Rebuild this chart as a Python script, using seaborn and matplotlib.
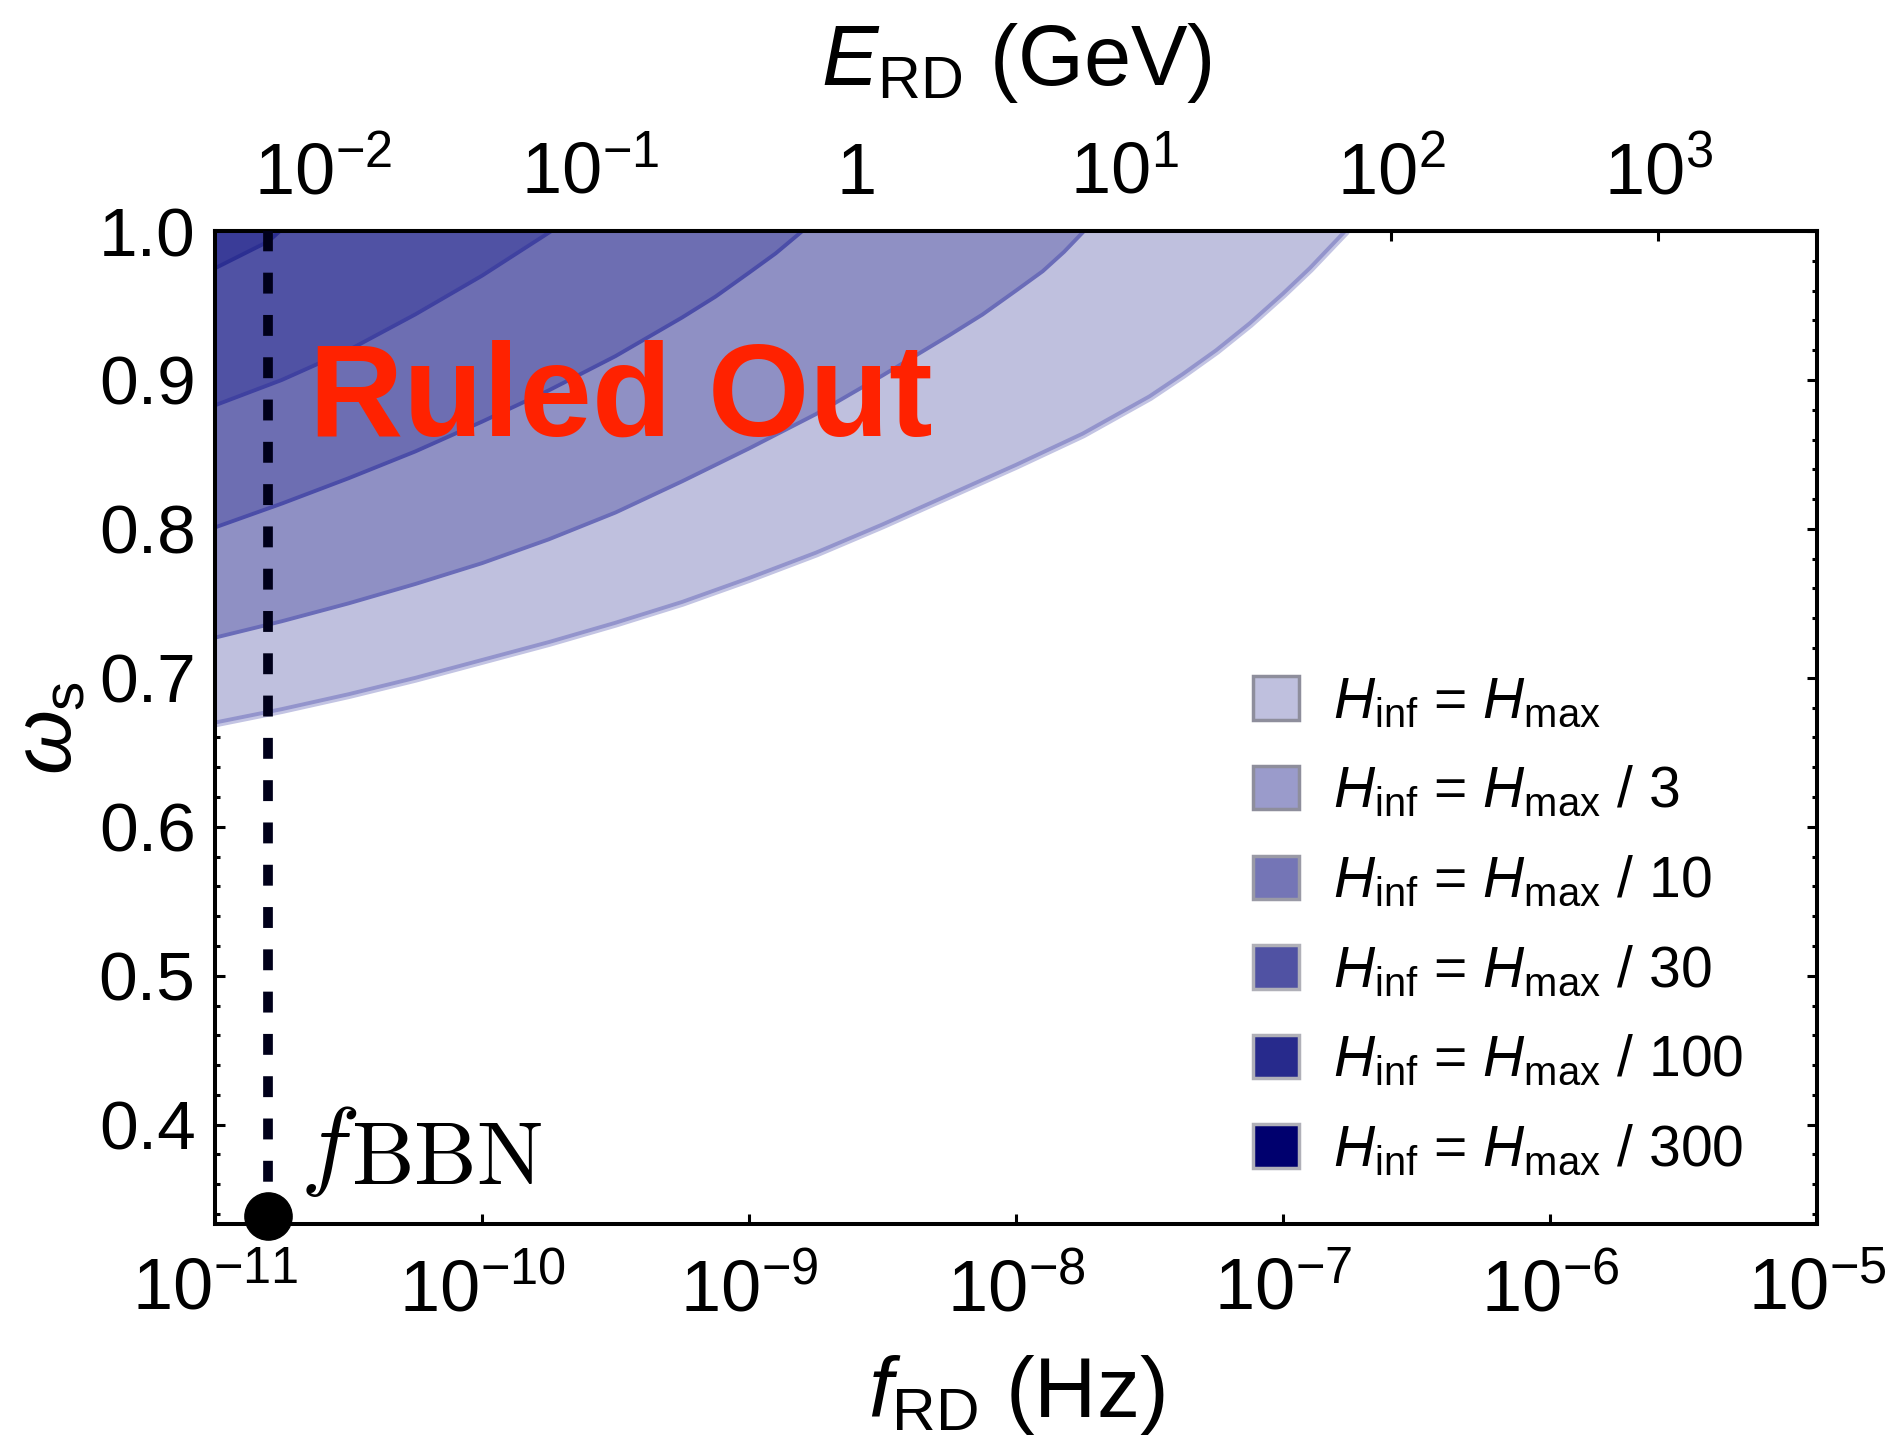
import numpy as np
import pandas as pd
import matplotlib
matplotlib.use("Agg")
import matplotlib.pyplot as plt
import seaborn as sns
from matplotlib.patches import Patch
from matplotlib.ticker import FixedLocator, NullLocator, MultipleLocator

# ---------------- data ----------------
# boundary curves: log10(f_RD / Hz) and omega_s
logf_hmax = [-11.0, -10.75, -10.5, -10.25, -10.0, -9.75, -9.5, -9.25, -9.0, -8.75,
             -8.5, -8.25, -8.0, -7.75, -7.5, -7.375, -7.25, -7.125, -7.0, -6.9, -6.767]
w_hmax = [0.670, 0.679, 0.689, 0.700, 0.712, 0.724, 0.737, 0.751, 0.767, 0.784,
          0.803, 0.823, 0.843, 0.864, 0.889, 0.904, 0.920, 0.938, 0.958, 0.975, 1.0]
logf_h3 = [-11.0, -10.75, -10.5, -10.25, -10.0, -9.75, -9.5, -9.25, -9.0, -8.75,
           -8.5, -8.25, -8.125, -8.0, -7.9, -7.82, -7.745]
w_h3 = [0.727, 0.738, 0.750, 0.763, 0.777, 0.793, 0.811, 0.832, 0.854, 0.877,
        0.903, 0.930, 0.944, 0.960, 0.973, 0.986, 1.0]
logf_h10 = [-11.0, -10.75, -10.5, -10.25, -10.0, -9.75, -9.5, -9.25, -9.125, -9.0,
            -8.9, -8.8]
w_h10 = [0.801, 0.817, 0.834, 0.852, 0.872, 0.893, 0.916, 0.942, 0.956, 0.972,
         0.985, 1.0]
logf_h30 = [-11.0, -10.75, -10.5, -10.25, -10.0, -9.87, -9.74]
w_h30 = [0.883, 0.900, 0.920, 0.944, 0.970, 0.985, 1.0]
logf_h100 = [-11.0, -10.9, -10.8, -10.757]
w_h100 = [0.975, 0.984, 0.993, 1.0]

legend_labels = [r"$H_{\mathrm{inf}}$ = $H_{\mathrm{max}}$",
                 r"$H_{\mathrm{inf}}$ = $H_{\mathrm{max}}$ / 3",
                 r"$H_{\mathrm{inf}}$ = $H_{\mathrm{max}}$ / 10",
                 r"$H_{\mathrm{inf}}$ = $H_{\mathrm{max}}$ / 30",
                 r"$H_{\mathrm{inf}}$ = $H_{\mathrm{max}}$ / 100",
                 r"$H_{\mathrm{inf}}$ = $H_{\mathrm{max}}$ / 300"]
legend_colors = ["#bfc0de", "#9a9bcb", "#7475b6", "#5052a3", "#272a8c", "#00006e"]
legend_edges = ["#8e8e9c", "#8e8e9c", "#9a9aa6", "#b0b0b8", "#b0b0b8", "#b0b0b8"]

fill_colors = ["#bfc0de", "#8f90c4", "#6d6eb2", "#5052a4", "#3a3c98"]
line_colors = ["#9394cc", "#6a6cb8", "#4b4da8", "#3f41a0", "#2c2f92"]

f_bbn = 1.58e-11
w_dot = 0.339
w_min, w_max = 1.0 / 3.0, 1.0
x_ticks = [1e-11, 1e-10, 1e-9, 1e-8, 1e-7, 1e-6, 1e-5]
x_labels = [r"$10^{-11}$", r"$10^{-10}$", r"$10^{-9}$", r"$10^{-8}$",
            r"$10^{-7}$", r"$10^{-6}$", r"$10^{-5}$"]
y_ticks = [0.4, 0.5, 0.6, 0.7, 0.8, 0.9, 1.0]
y_labels = ["0.4", "0.5", "0.6", "0.7", "0.8", "0.9", "1.0"]
E_ticks = [1e-2, 1e-1, 1.0, 1e1, 1e2, 1e3]
E_labels = [r"$10^{-2}$", r"$10^{-1}$", "1", r"$10^{1}$", r"$10^{2}$", r"$10^{3}$"]
f_per_GeV = 2.54e-9

# ---------------- style ----------------
sns.set_theme(style="white")
plt.rcParams["font.family"] = ["Liberation Sans", "DejaVu Sans"]
plt.rcParams["mathtext.fontset"] = "custom"
plt.rcParams["mathtext.rm"] = "Liberation Sans"
plt.rcParams["mathtext.it"] = "Liberation Sans:italic"
plt.rcParams["mathtext.bf"] = "Liberation Sans:bold"
plt.rcParams["axes.unicode_minus"] = True
for key in ["text.color", "axes.labelcolor", "xtick.color", "ytick.color",
            "axes.edgecolor"]:
    plt.rcParams[key] = "black"

fig = plt.figure(figsize=(18.99, 14.54), dpi=100)
ax = fig.add_axes([0.1132, 0.1582, 0.8436, 0.6829])
ax.set_xscale("log")

curves = [(logf_hmax, w_hmax), (logf_h3, w_h3), (logf_h10, w_h10),
          (logf_h30, w_h30), (logf_h100, w_h100)]

for i, (lf, w) in enumerate(curves):
    f = 10.0 ** np.asarray(lf)
    w = np.asarray(w)
    ax.fill_between(f, w, 1.0, color=fill_colors[i], lw=0, zorder=2 + 0.1 * i)
    df = pd.DataFrame({"f": f, "w": w})
    if i == 0:
        sns.lineplot(data=df, x="f", y="w", ax=ax, color="#c3c4e3", lw=7,
                     sort=False, estimator=None, legend=False, zorder=1.5)
    sns.lineplot(data=df, x="f", y="w", ax=ax, color=line_colors[i], lw=2.8,
                 sort=False, estimator=None, legend=False, zorder=2.05 + 0.1 * i)

# f_BBN dashed line and dot
ax.plot([f_bbn, f_bbn], [w_min, w_max], color="#00001a", lw=7.0,
        dashes=(2.15, 2.2), zorder=4)
ax.plot([f_bbn], [w_dot], marker="o", ms=34, color="black", clip_on=False, zorder=6)
ax.annotate(r"$f$", xy=(f_bbn, w_min), xytext=(23, 34),
            textcoords="offset points", fontsize=72, math_fontfamily="cm",
            color="black", ha="left", va="baseline", zorder=6)
ax.annotate(r"$\mathrm{BBN}$", xy=(f_bbn, w_min), xytext=(60, 29),
            textcoords="offset points", fontsize=64, math_fontfamily="cm",
            color="black", ha="left", va="baseline", zorder=6)

ax.text(0.0587, 0.7936, "Ruled Out", transform=ax.transAxes, color="#ff2200",
        fontsize=94, fontweight="bold", ha="left", va="baseline", zorder=5)

ax.set_xlim(1e-11, 1e-5)
ax.set_ylim(w_min, w_max)

ax.xaxis.set_major_locator(FixedLocator(x_ticks))
ax.set_xticklabels(x_labels)
ax.xaxis.set_minor_locator(NullLocator())
ax.yaxis.set_major_locator(FixedLocator(y_ticks))
ax.set_yticklabels(y_labels)
ax.yaxis.set_minor_locator(MultipleLocator(0.02))

ax.tick_params(axis="x", which="major", direction="in", length=7.5, width=2.2,
               labelsize=52, pad=24, top=False, bottom=True, colors="black")
ax.tick_params(axis="y", which="major", direction="in", length=7, width=2.2,
               labelsize=50, pad=14, left=True, right=True, colors="black")
ax.tick_params(axis="y", which="minor", direction="in", length=3.5, width=2.2,
               left=True, right=True)

for s in ax.spines.values():
    s.set_linewidth(2.9)
    s.set_color("black")

ax.set_xlabel(r"$f_{\mathrm{RD}}$ (Hz)", fontsize=62, labelpad=20, color="black")
ax.set_ylabel(r"$\omega_{\mathrm{s}}$", fontsize=60, color="black")
ax.yaxis.set_label_coords(-0.079, 0.5)

secax = ax.secondary_xaxis("top", functions=(lambda x: x / f_per_GeV,
                                              lambda e: e * f_per_GeV))
secax.xaxis.set_major_locator(FixedLocator(E_ticks))
secax.set_xticklabels(E_labels)
secax.xaxis.set_minor_locator(NullLocator())
secax.tick_params(axis="x", which="major", direction="in", length=7, width=2.2,
                  labelsize=52, pad=16, colors="black")
secax.spines["top"].set_linewidth(2.9)
secax.set_xlabel(r"$E_{\mathrm{RD}}$ (GeV)", fontsize=61, labelpad=40, color="black")

handles = [Patch(facecolor=c, edgecolor=e, lw=2.5)
           for c, e in zip(legend_colors, legend_edges)]
leg = ax.legend(handles, legend_labels, loc="upper left",
                bbox_to_anchor=(0.648, 0.552), frameon=False, fontsize=41,
                handlelength=0.8, handleheight=0.8, handletextpad=0.6,
                labelspacing=0.62, borderpad=0, borderaxespad=0)
for t in leg.get_texts():
    t.set_color("black")

fig.savefig("out.png", dpi=100)
